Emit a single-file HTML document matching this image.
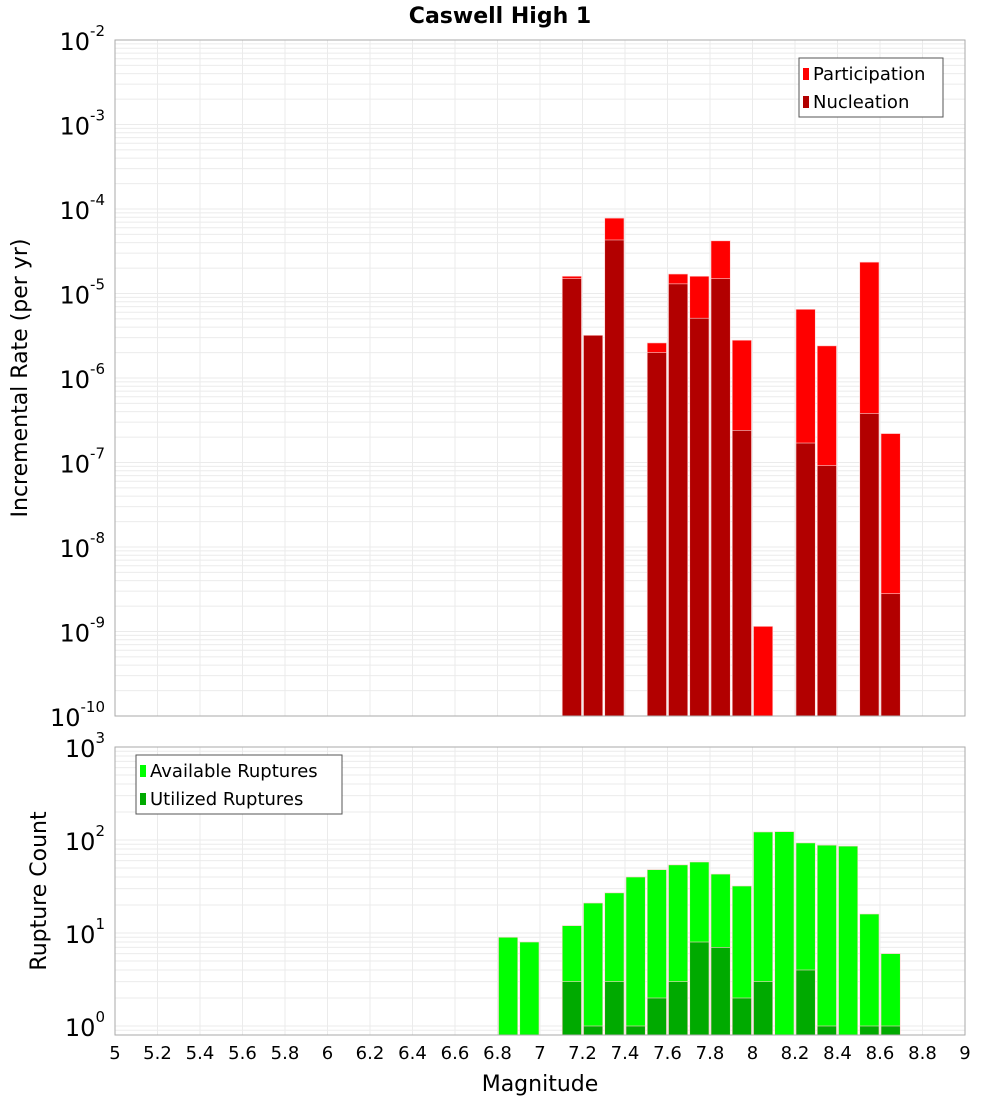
<!DOCTYPE html>
<html><head><meta charset="utf-8"><style>
body{margin:0;background:#fff;font-family:"Liberation Sans","DejaVu Sans",sans-serif;}
svg text{font-family:"DejaVu Sans","Liberation Sans",sans-serif;}
</style></head><body>
<svg id="c" width="1000" height="1100" xmlns="http://www.w3.org/2000/svg"></svg>
<script>
const bins=[6.8,6.9,7.0,7.1,7.2,7.3,7.4,7.5,7.6,7.7,7.8,7.9,8.0,8.1,8.2,8.3,8.4,8.5,8.6];
const participation=[0,0,0,1.6e-5,3.2e-6,7.8e-5,0,2.6e-6,1.7e-5,1.6e-5,4.2e-5,2.8e-6,1.15e-9,0,6.5e-6,2.4e-6,0,2.35e-5,2.2e-7];
const nucleation=[0,0,0,1.5e-5,3.2e-6,4.3e-5,0,2.0e-6,1.3e-5,5.1e-6,1.5e-5,2.4e-7,0,0,1.7e-7,9.2e-8,0,3.8e-7,2.8e-9];
const available=[9,8,0,12,21,27,40,48,54,58,43,32,122,123,93,88,86,16,6];
const utilized=[0,0,0,3,1,3,1,2,3,8,7,2,3,0,4,1,0,1,1];
const xTicks=[5,5.2,5.4,5.6,5.8,6,6.2,6.4,6.6,6.8,7,7.2,7.4,7.6,7.8,8,8.2,8.4,8.6,8.8,9];
const topExp=[-2,-3,-4,-5,-6,-7,-8,-9,-10];
const botExp=[3,2,1,0];
const NS='http://www.w3.org/2000/svg',svg=document.getElementById('c');
function el(t,a,p){const e=document.createElementNS(NS,t);for(const k in a)e.setAttribute(k,a[k]);(p||svg).appendChild(e);return e;}
const X0=115,X1=965;
const xs=m=>X0+(m-5)/4*(X1-X0);
const T0=40,T1=716,yt=v=>T0+(-2-Math.log10(v))*(T1-T0)/8;
const B0=747,B1=1035,BD=93,yb=v=>(B0+3*BD)-Math.log10(v)*BD;
function grid(y0,y1,ylog,eMin,eMax){
  for(let e=eMin;e<eMax;e++)for(let k=1;k<10;k++){const y=ylog(k*Math.pow(10,e));if(y>=y0&&y<=y1){const l=el('line',{x1:X0,x2:X1,y1:y,y2:y,stroke:'#ebebeb','stroke-width':1});}}
  xTicks.forEach(t=>{const l=el('line',{x1:xs(t),x2:xs(t),y1:y0,y2:y1,stroke:'#ebebeb'});});
}
grid(T0,T1,yt,-10,-1);
grid(B0,B1,yb,-1,3);
function bars(vals,ys,base,color,name){
  vals.forEach((v,i)=>{if(v<=0)return;const x=xs(bins[i])+1,w=xs(bins[i]+0.1)-xs(bins[i])-2,y=ys(v);
    const r=el('rect',{x:x,y:y,width:w,height:base-y,fill:color,stroke:'#ffd0d0','stroke-width':0.6});
    
    });
}
bars(participation,yt,T1,'#ff0000','participation');
bars(nucleation,yt,T1,'#b20000','nucleation');
bars(available,yb,B1,'#00ff00','available');
bars(utilized,yb,B1,'#00aa00','utilized');
[[T0,T1],[B0,B1]].forEach(([a,b],i)=>{const r=el('rect',{x:X0,y:a,width:X1-X0,height:b-a,fill:'none',stroke:'#aaa'});});
function ylab(y,e,name){const t=el('text',{x:105,y:y+10,'text-anchor':'end','font-size':24,fill:'#000'});t.textContent='10';
  const s=el('tspan',{dy:-14,'font-size':15});s.textContent=String(e);t.appendChild(s);
  }
topExp.forEach(e=>ylab(yt(Math.pow(10,e)),e,'top-y-tick'));
botExp.forEach(e=>ylab(yb(Math.pow(10,e)),e,'bottom-y-tick'));
xTicks.forEach(t=>{const tx=el('text',{x:xs(t),y:1059,'text-anchor':'middle','font-size':18,fill:'#000'});tx.textContent=String(t);});
function txt(s,a,name){const t=el('text',a);t.textContent=s;return t;}
txt('Caswell High 1',{x:500,y:23,'text-anchor':'middle','font-size':22,'font-weight':'bold'},'chart-title');
txt('Magnitude',{x:540,y:1091,'text-anchor':'middle','font-size':22},'x-axis-title');
txt('Incremental Rate (per yr)',{x:0,y:0,'text-anchor':'middle','font-size':22,transform:'translate(27,378) rotate(-90)'},'top-y-axis-title');
txt('Rupture Count',{x:0,y:0,'text-anchor':'middle','font-size':22,transform:'translate(46,891) rotate(-90)'},'bottom-y-axis-title');
function legend(x,y,w,items,name){const g=el('g',{});
  el('rect',{x:x,y:y,width:w,height:59,fill:'#fff',stroke:'#555'},g);
  items.forEach(([c,l],i)=>{el('rect',{x:x+4,y:y+10+i*28,width:6,height:12,fill:c},g);
    const t=el('text',{x:x+14,y:y+22+i*28,'font-size':18},g);t.textContent=l;});}
legend(799,58,144,[['#ff0000','Participation'],['#b20000','Nucleation']],'top-legend');
legend(136,755,206,[['#00ff00','Available Ruptures'],['#00aa00','Utilized Ruptures']],'bottom-legend');
</script>
</body></html>
